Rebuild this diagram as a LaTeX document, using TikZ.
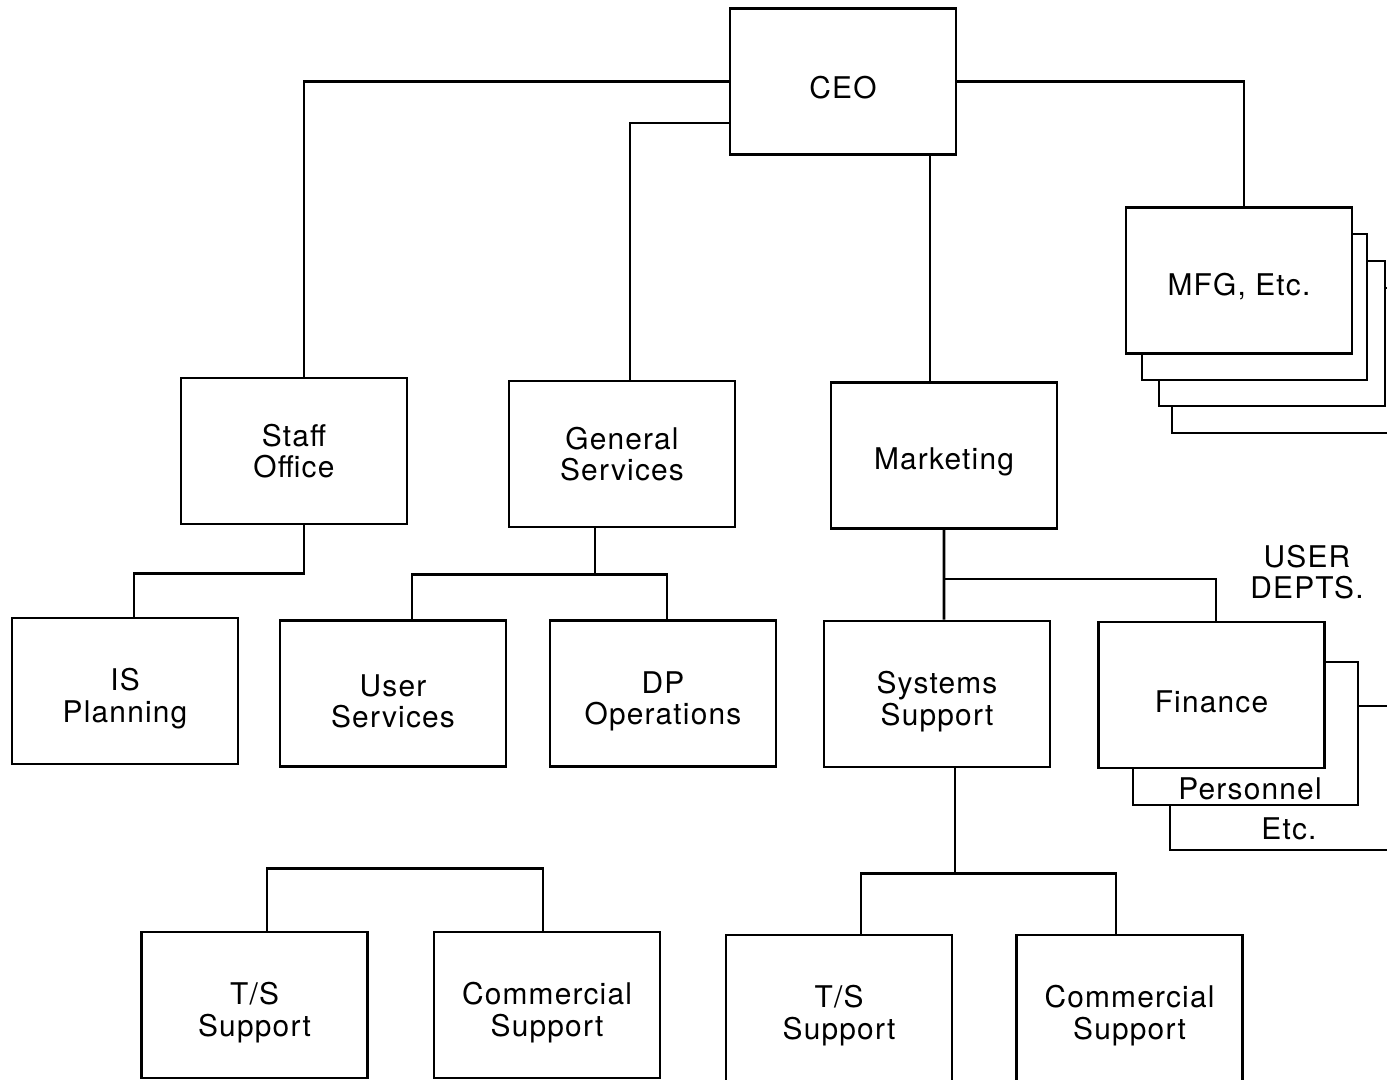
\documentclass[tikz,border=0pt]{standalone}
\usepackage{fontspec}
\setmainfont[LetterSpace=4]{TeX Gyre Heros}
\usepackage{tikz}

\newcommand{\liftline}{\rule{0pt}{21.5pt}}

\begin{document}
\begin{tikzpicture}[x=0.2mm, y=-0.2mm, line width=1.5pt,
        unit/.style = {draw, fill=white,
            minimum width=45.2mm, minimum height=29.2mm,
            align=center, inner sep=0pt,
            execute at begin node={\rule{0pt}{20pt}},
            font=\fontsize{17}{18}\selectfont},
        tag/.style = {align=center, inner sep=0pt,
            font=\fontsize{17}{18}\selectfont}]

        \useasboundingbox (0,0) rectangle (1387,1080);
        \clip (0,0) rectangle (1387,1080);

        % Stack behind MFG
        \draw[fill=white] (1172,288) rectangle (1420,433);
        \draw[fill=white] (1159,261) rectangle (1385,406);
        \draw[fill=white] (1142,234) rectangle (1367,380);

        % Stack behind Finance
        \draw[fill=white] (1170,706) rectangle (1420,850);
        \draw[fill=white] (1133,662) rectangle (1358,805);
        \node[tag] (personnel) at (1250,789) {Personnel};
        \node[tag] (etc) at (1289,829) {Etc.};

        % Boxes
        \node[unit] (ceo) at (843,81.5) {CEO};
        \node[unit] (mfg) at (1239,280.5) {MFG, Etc.};
        \node[unit] (staff) at (294,451) {Staff\\Office};
        \node[unit] (gen) at (622,454) {General\\Services};
        \node[unit] (mkt) at (944,455.5) {Marketing};
        \node[unit] (plan) at (125,691) {\liftline IS\\Planning};
        \node[unit] (user) at (393,693.5) {\liftline User\\Services};
        \node[unit] (dp) at (663,693.5) {\liftline DP\\Operations};
        \node[unit] (sys) at (937,694) {\liftline Systems\\Support};
        \node[unit] (fin) at (1211.5,695) {Finance};
        \node[unit] (tsa) at (254.5,1005) {\liftline T/S\\Support};
        \node[unit] (coma) at (547,1005) {\liftline Commercial\\Support};
        \node[unit] (tsb) at (839,1008) {\liftline T/S\\Support};
        \node[unit] (comb) at (1129.5,1008) {\liftline Commercial\\Support};
        \node[tag] (depts) at (1307,572) {USER\\DEPTS.};

        % CEO lines
        \draw (ceo.west) -| ([xshift=2mm]staff.north);
        \draw ([yshift=-8.3mm]ceo.west) -| ([xshift=1.6mm]gen.north);
        \coordinate (mkttop) at ([xshift=-2.8mm]mkt.north);
        \draw (mkttop) -- (mkttop |- ceo.south);
        \draw (ceo.east) -| ([xshift=1mm]mfg.north);

        % Staff Office
        \draw ([xshift=2mm]staff.south) -- ++(0,48) -| ([xshift=1.8mm]plan.north);

        % General Services
        \draw ([xshift=-5.4mm]gen.south) -- ++(0,46) coordinate (gsplit);
        \draw ([xshift=3.8mm]user.north) |- (gsplit) -| ([xshift=0.8mm]dp.north);

        % Marketing
        \draw (mkt.south) -- ([xshift=1.4mm]sys.north);
        \path (mkt.south) ++(0,49) coordinate (msplit);
        \draw (msplit) -| ([xshift=0.9mm]fin.north);

        % Systems Support
        \draw ([xshift=3.6mm]sys.south) -- ++(0,105) coordinate (ssplit);
        \draw ([xshift=4.4mm]tsb.north) |- (ssplit) -| ([xshift=-2.7mm]comb.north);

        % Lower left pair
        \draw ([xshift=2.5mm]tsa.north) -- ++(0,-62) -| ([xshift=-0.8mm]coma.north);
    \end{tikzpicture}
\end{document}
